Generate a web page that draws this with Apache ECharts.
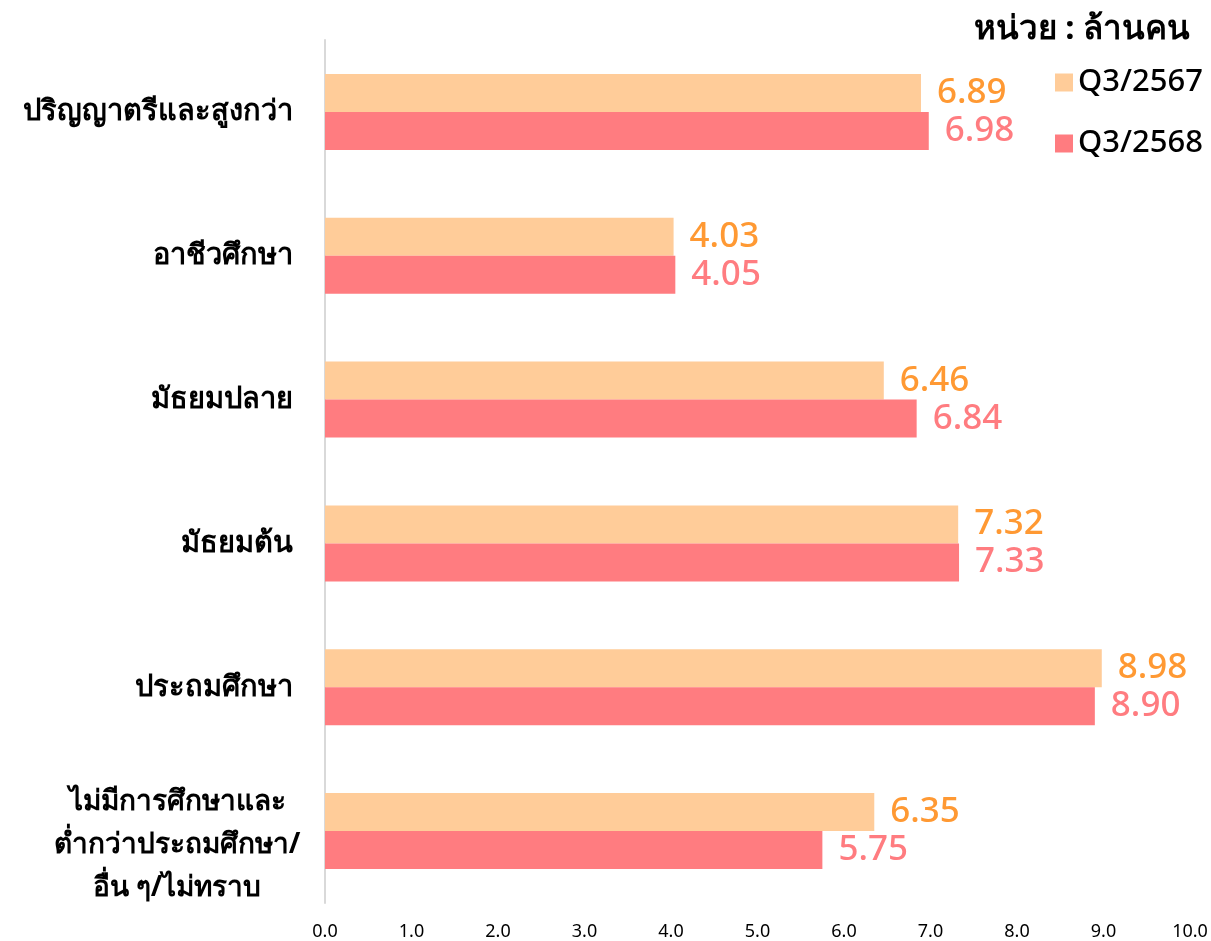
<!DOCTYPE html>
<html><head><meta charset="utf-8">
<script src="https://cdn.jsdelivr.net/npm/echarts@6/dist/echarts.min.js"></script>
<style>html,body{margin:0;padding:0;background:#fff}#c{width:1211px;height:941px}</style>
</head><body><div id="c"></div>
<script>
const categories = ['ปริญญาตรีและสูงกว่า','อาชีวศึกษา','มัธยมปลาย','มัธยมต้น','ประถมศึกษา','ไม่มีการศึกษาและ\nต่ำกว่าประถมศึกษา/\nอื่น ๆ/ไม่ทราบ'];
const seriesNames = ['Q3/2567','Q3/2568'];
const values2567 = [6.89, 4.03, 6.46, 7.32, 8.98, 6.35];
const values2568 = [6.98, 4.05, 6.84, 7.33, 8.90, 5.75];
const xTicks = [0,1,2,3,4,5,6,7,8,9,10];
const unitText = 'หน่วย : ล้านคน';

const FONT = "'Noto Sans', sans-serif";
const chart = echarts.init(document.getElementById('c'));
chart.setOption({
  animation:false,
  title:{text:unitText, right:16, top:8, textStyle:{fontFamily:FONT, fontSize:33, fontWeight:'bold', color:'#000'}},
  legend:{orient:'vertical', left:1050, top:62, itemWidth:18, itemHeight:18, itemGap:30,
    textStyle:{fontFamily:FONT, fontSize:31, fontWeight:500, color:'#000'}, icon:'rect', data:seriesNames},
  grid:{left:325, right:21, top:40, bottom:38, containLabel:false},
  xAxis:{type:'value', min:xTicks[0], max:xTicks[xTicks.length-1], interval:1,
    axisLine:{show:false}, axisTick:{show:false}, splitLine:{show:false},
    axisLabel:{margin:20, fontFamily:FONT, fontSize:18, color:'#000', formatter:v=>v.toFixed(1)}},
  yAxis:{type:'category', data:categories, inverse:true,
    axisLine:{show:true, lineStyle:{color:'#d9d9d9', width:2}}, axisTick:{show:false},
    axisLabel:{margin:32, fontFamily:FONT, fontSize:29, fontWeight:'bold', color:'#000', lineHeight:43,
      formatter:function(v){ if(v.indexOf('\n')>=0){ return '{sp| }\n' + v.split('\n').map(s=>'{c|'+s+'}').join('\n'); } return v; },
      rich:{
        sp:{width:232, fontSize:1, lineHeight:28},
        c:{width:232, align:'center', fontFamily:FONT, fontSize:28, fontWeight:'bold', color:'#000', lineHeight:43}}}},
  series:[
    {name:seriesNames[0], type:'bar', data:values2567, barWidth:38, barGap:'0%',
      itemStyle:{color:'#FFCC99'},
      label:{show:true, position:'right', distance:16, fontFamily:FONT, fontSize:35, fontWeight:500, color:'#FF9933', formatter:p=>p.value.toFixed(2)}},
    {name:seriesNames[1], type:'bar', data:values2568, barWidth:38, barGap:'0%',
      itemStyle:{color:'#FF7C80'},
      label:{show:true, position:'right', distance:16, fontFamily:FONT, fontSize:35, fontWeight:500, color:'#FF7C80', formatter:p=>p.value.toFixed(2)}}
  ]
});
</script></body></html>
